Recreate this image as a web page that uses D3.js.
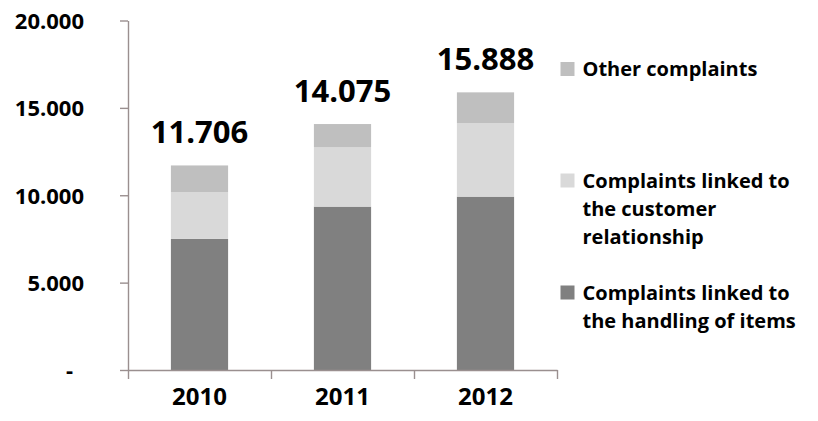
<!DOCTYPE html>
<html>
<head>
<meta charset="utf-8">
<script src="https://cdn.jsdelivr.net/npm/d3@7"></script>
<style>
  html, body { margin: 0; padding: 0; background: #fff; }
  svg { display: block; }
  text { font-family: "Open Sans", Lato, sans-serif; font-weight: bold; fill: #000; }
</style>
</head>
<body>
<svg id="chart" width="818" height="421"></svg>
<script>
// Complaints per year, split by type (stacked bottom to top)
const years = ["2010", "2011", "2012"];
const handlingOfItems = [7500, 9350, 9920];
const customerRelationship = [2670, 3410, 4200];
const otherComplaints = [1536, 1315, 1768];
const totals = [11706, 14075, 15888];

const seriesKeys = ["handling", "customer", "other"];
const seriesColors = ["#808080", "#d9d9d9", "#bfbfbf"];
// legend entries listed top to bottom, each split into its text lines
const legendOrder = ["other", "customer", "handling"];
const legendLines = {
  other: ["Other complaints"],
  customer: ["Complaints linked to", "the customer", "relationship"],
  handling: ["Complaints linked to", "the handling of items"]
};

const yTicks = [0, 5000, 10000, 15000, 20000];
const yMax = 20000;

const svg = d3.select("#chart");
const axisColor = "#9a8f8f";

const plotLeft = 128, plotRight = 557, plotTop = 20.5, plotBottom = 370;

const x = d3.scaleBand().domain(years).range([plotLeft, plotRight])
  .paddingInner(0.6).paddingOuter(0.3);
const y = d3.scaleLinear().domain([0, yMax]).range([plotBottom, plotTop]);

const rows = years.map((yr, i) => ({
  year: yr,
  handling: handlingOfItems[i],
  customer: customerRelationship[i],
  other: otherComplaints[i],
  total: totals[i]
}));

const stacked = d3.stack().keys(seriesKeys)(rows);
const color = d3.scaleOrdinal().domain(seriesKeys).range(seriesColors);

// bars
svg.append("g")
  .selectAll("g")
  .data(stacked)
  .join("g")
  .attr("fill", d => color(d.key))
  .selectAll("rect")
  .data(d => d)
  .join("rect")
  .attr("x", d => x(d.data.year))
  .attr("width", x.bandwidth())
  .attr("y", d => y(d[1]))
  .attr("height", d => y(d[0]) - y(d[1]));

// thousands separator is a dot; zero shows as a dash
const fmt = v => v === 0 ? "-" : d3.format(",")(v).replace(/,/g, ".");

// y axis
const yAxis = svg.append("g")
  .attr("transform", `translate(${plotLeft},0)`)
  .call(d3.axisLeft(y).tickValues(yTicks).tickFormat(fmt)
    .tickSize(8).tickSizeOuter(0).tickPadding(36));
yAxis.select(".domain").attr("stroke", axisColor).attr("stroke-width", 1.4);
yAxis.selectAll(".tick line").attr("stroke", axisColor).attr("stroke-width", 1.4);
yAxis.selectAll(".tick text")
  .attr("font-size", 22)
  .attr("dy", "0.36em");
yAxis.attr("font-family", null).attr("font-size", null);
yAxis.selectAll(".tick").filter(d => d === 0).select("text").attr("dx", -11);

// x axis: line with ticks on the category boundaries
const boundary = d3.scaleLinear().domain([0, years.length]).range([plotLeft, plotRight]);
const xAxis = svg.append("g")
  .attr("transform", `translate(0,${plotBottom})`)
  .call(d3.axisBottom(boundary).tickValues(d3.range(years.length + 1))
    .tickFormat("").tickSize(9).tickSizeOuter(0));
xAxis.select(".domain").attr("stroke", axisColor).attr("stroke-width", 1.4);
xAxis.selectAll(".tick line").attr("stroke", axisColor).attr("stroke-width", 1.4);

// year labels
const xLabels = svg.append("g")
  .attr("transform", `translate(0,${plotBottom})`)
  .call(d3.axisBottom(x).tickSize(0).tickSizeOuter(0));
xLabels.attr("font-family", null).attr("font-size", null);
xLabels.select(".domain").remove();
xLabels.selectAll(".tick text")
  .attr("font-size", 24)
  .attr("y", 35)
  .attr("dy", null);

// totals above each bar
svg.append("g")
  .selectAll("text")
  .data(rows)
  .join("text")
  .attr("x", d => x(d.year) + x.bandwidth() / 2)
  .attr("y", d => y(d.total) - 22.5)
  .attr("text-anchor", "middle")
  .attr("font-size", 31)
  .text(d => fmt(d.total));

// legend
const legendBaselines = [76, 187.5, 299.5];
const lineStep = 28.3;
const legend = svg.append("g");
legendOrder.forEach((key, i) => {
  const base = legendBaselines[i];
  legend.append("rect")
    .attr("x", 560.5).attr("y", base - 14)
    .attr("width", 14).attr("height", 14)
    .attr("fill", color(key));
  const t = legend.append("text")
    .attr("x", 582.5).attr("y", base)
    .attr("font-size", 20);
  legendLines[key].forEach((line, j) => {
    t.append("tspan").attr("x", 582.5).attr("y", base + j * lineStep).text(line);
  });
});
</script>
</body>
</html>
